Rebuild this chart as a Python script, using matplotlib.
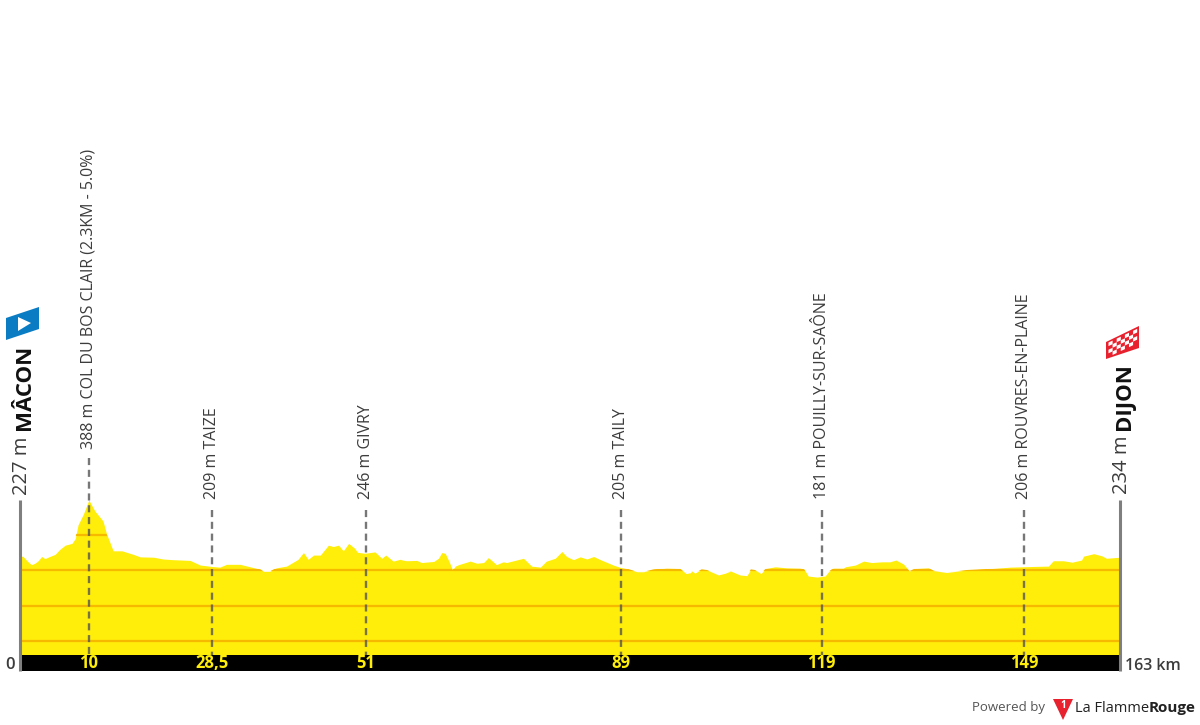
import matplotlib
matplotlib.use("Agg")
import matplotlib.pyplot as plt
from matplotlib.patches import Polygon

plt.rcParams['font.family'] = ['Open Sans', 'DejaVu Sans']

# profile
KM = [0.0, 0.4, 0.7, 1.2, 1.7, 2.2, 2.7, 3.2, 3.7, 4.4, 5.2, 5.9, 6.7, 7.7, 8.2, 8.6, 9.4, 10.2, 11.1, 12.3,
      12.8, 13.8, 15.1, 16.8, 17.8, 19.8, 21.2, 22.7, 25.2, 26.7, 28.4, 29.6, 30.6, 32.6, 35.6, 36.1, 37.0, 38.0, 39.5, 41.2,
      42.0, 42.7, 43.5, 44.5, 45.7, 46.4, 47.2, 47.9, 48.7, 49.6, 50.0, 51.1, 52.6, 53.6, 54.2, 55.3, 56.3, 56.7, 57.3, 58.8,
      59.5, 61.3, 62.0, 62.5, 63.0, 63.6, 64.1, 64.5, 65.0, 66.7, 67.7, 68.7, 69.4, 70.6, 71.6, 72.1, 74.6, 75.8, 77.1, 78.0,
      79.3, 80.3, 81.0, 82.0, 83.0, 84.0, 85.0, 85.9, 87.9, 89.0, 90.1, 91.4, 92.4, 93.9, 95.8, 97.8, 98.7, 99.3, 99.6, 100.0,
      101.0, 101.8, 103.5, 104.5, 105.3, 106.7, 107.7, 108.3, 108.9, 109.8, 110.5, 111.9, 113.6, 115.6, 116.2, 116.8, 118.1, 119.3, 119.8, 120.5,
      122.0, 122.3, 123.8, 125.0, 126.2, 127.7, 128.9, 129.8, 130.9, 131.8, 132.6, 134.6, 135.4, 137.3, 140.3, 143.3, 146.7, 150.2, 152.4, 153.1,
      154.6, 155.9, 157.3, 157.6, 159.1, 160.3, 161.0, 163.0]
ELEV = [238, 239, 233, 223, 215, 219, 226, 238, 232, 238, 244, 258, 270, 275, 289, 327, 358, 397, 366, 338,
        303, 254, 254, 244, 237, 236, 231, 229, 227, 214, 210, 208, 216, 216, 202, 196, 196, 206, 211, 230,
        249, 230, 242, 242, 270, 266, 270, 254, 275, 261, 250, 247, 251, 233, 242, 225, 230, 228, 226, 227,
        221, 224, 233, 249, 247, 223, 200, 211, 215, 225, 219, 221, 235, 215, 223, 221, 233, 211, 208, 225,
        233, 252, 238, 229, 237, 231, 238, 230, 214, 207, 203, 195, 195, 202, 205, 204, 190, 192, 197, 191,
        202, 200, 186, 191, 197, 186, 184, 202, 200, 190, 204, 209, 206, 205, 202, 183, 180, 183, 195, 205,
        205, 209, 214, 225, 221, 223, 223, 228, 217, 197, 204, 206, 198, 193, 200, 203, 208, 210, 211, 226,
        226, 222, 228, 239, 246, 240, 233, 236]

GRID_M = [0, 100, 200, 300]
WAY_KM = [10.2, 28.4, 51.2, 89, 118.8, 148.8]
WAY_TICKS = ['10', '28,5', '51', '89', '119', '149']
WAY_LABELS = ['388 m COL DU BOS CLAIR (2.3KM - 5.0%)', '209 m TAIZE', '246 m GIVRY', '205 m TAILY',
              '181 m POUILLY-SUR-SAÔNE', '206 m ROUVRES-EN-PLAINE']
TOTAL_KM = 163
START_NAME, START_ELEV = 'MÂCON', '227 m'
END_NAME, END_ELEV = 'DIJON', '234 m'

YELLOW = '#ffed0a'
GREY = '#7f7f7f'
DARK = '#3c3c3c'


def m_at(py):
    """elevation sitting at a given pixel row of the figure"""
    return 200 + (570 - py) / 0.355


fig = plt.figure(figsize=(12, 7.25), dpi=100)
ax = fig.add_axes([20 / 1200, 1 - 671 / 725, 1100 / 1200, 671 / 725])
ax.set_xlim(0, TOTAL_KM)
ax.set_ylim(m_at(671), m_at(0))
ax.axis('off')

base = m_at(655)
poly = ax.fill_between(KM, ELEV, base, color=YELLOW, lw=0, zorder=1)
clip = poly.get_paths()[0]

# grid only shows inside the profile
for g in GRID_M:
    ln = ax.axhline(g, color='#f7b900', lw=1.6, zorder=2)
    ln.set_clip_path(clip, ax.transData)

# km band
ax.axhspan(m_at(671), base, color='black', lw=0, zorder=3)

for km, tick, label in zip(WAY_KM, WAY_TICKS, WAY_LABELS):
    first = label == WAY_LABELS[0]
    top = 458 if first else 510
    ax.plot([km, km], [m_at(top), base], color='#555555', alpha=0.8, lw=1.7, dashes=(3, 2), zorder=4)
    ax.text(km, m_at(449 if first else 499), label, rotation=90, ha='center', va='bottom',
            fontsize=11.5, color=DARK, clip_on=False)
    ax.text(km, m_at(663), tick, ha='center', va='center', fontsize=12, fontweight='bold', color=YELLOW, zorder=5)

# start and finish posts
ax.plot([0, 0], [m_at(500), m_at(671)], color=GREY, lw=2.2, zorder=6, solid_capstyle='butt', clip_on=False)
ax.plot([TOTAL_KM, TOTAL_KM], [m_at(500), m_at(671)], color=GREY, lw=2.2, zorder=6, solid_capstyle='butt', clip_on=False)

ax.text(0.35, m_at(495), START_ELEV, rotation=90, ha='center', va='bottom', fontsize=14.5, color=DARK, clip_on=False)
ax.text(0.6, m_at(430), START_NAME, rotation=90, ha='center', va='bottom', fontsize=16, fontweight='bold', color='#111111', clip_on=False)
ax.text(TOTAL_KM + 0.35, m_at(494), END_ELEV, rotation=90, ha='center', va='bottom', fontsize=14.5, color=DARK, clip_on=False)
ax.text(TOTAL_KM + 0.7, m_at(430), END_NAME, rotation=90, ha='center', va='bottom', fontsize=16, fontweight='bold', color='#111111', clip_on=False)

# overlay in pixels for the icons and footer
ov = fig.add_axes([0, 0, 1, 1], zorder=10)
ov.set_xlim(0, 1200)
ov.set_ylim(725, 0)
ov.axis('off')

ov.text(10, 665, '0', ha='center', va='center', fontsize=12, fontweight='semibold', color=DARK)
ov.text(1125, 665.5, f'{TOTAL_KM} km', ha='left', va='center', fontsize=11.5, fontweight='semibold', color=DARK)

ov.add_patch(Polygon([(6, 318), (39, 307), (39, 329), (6, 340)], fc='#0a7cc4', ec='none'))
ov.add_patch(Polygon([(18, 317), (31, 323), (18, 331)], fc='white', ec='none'))

ov.add_patch(Polygon([(1106, 342), (1139, 326), (1139, 348), (1106, 359)], fc='#e8212e', ec='none'))
for i in range(7):
    for j in range(4):
        if (i + j) % 2 == 0:
            x0 = 1108.5 + i * 4.1
            y0 = 342.5 - i * 1.95 + j * 3.6
            ov.add_patch(Polygon([(x0, y0), (x0 + 4.1, y0 - 1.95), (x0 + 4.1, y0 + 1.65), (x0, y0 + 3.6)],
                                 fc='white', ec='none'))

ov.text(972, 708, 'Powered by', ha='left', va='center', fontsize=9.5, color='#555555')
ov.add_patch(Polygon([(1053, 699), (1073, 699), (1063, 720)], fc='#e8212e', ec='none'))
ov.text(1063, 706, '1', ha='center', va='center', fontsize=7, fontweight='bold', color='white')
ov.text(1075, 708, 'La Flamme', ha='left', va='center', fontsize=10.5, color='#222222')
ov.text(1195, 708, 'Rouge', ha='right', va='center', fontsize=11, fontweight='bold', color='#222222')

fig.savefig('out.png', dpi=100)
